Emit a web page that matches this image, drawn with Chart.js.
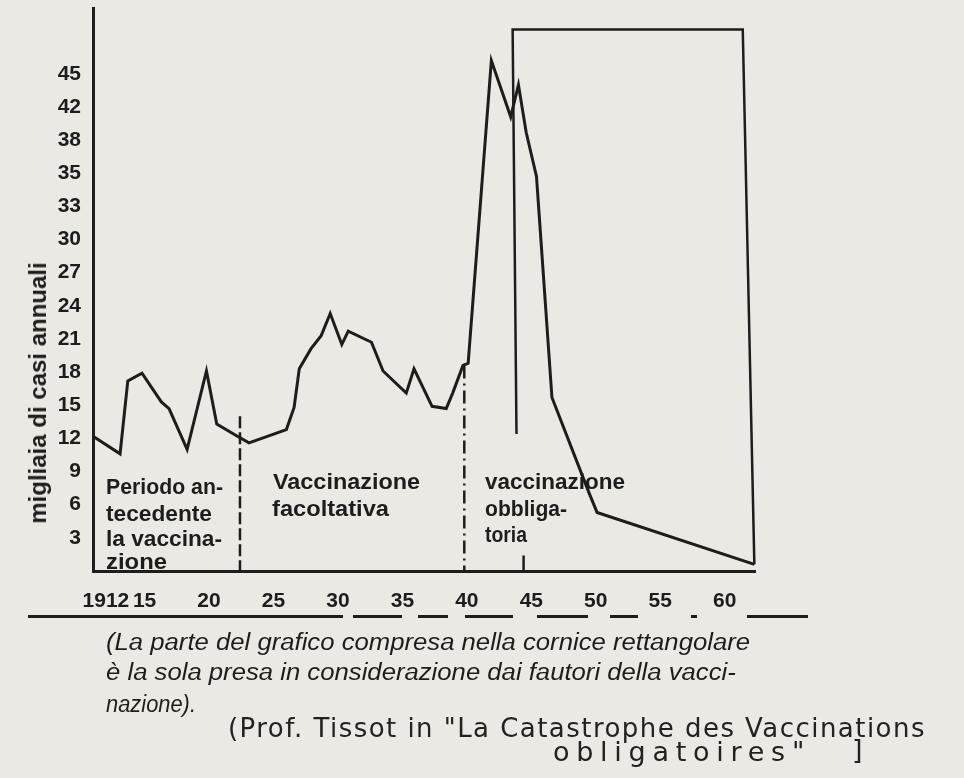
<!DOCTYPE html>
<html lang="it">
<head>
<meta charset="utf-8">
<title>Vaiolo - migliaia di casi annuali</title>
<script src="https://cdn.jsdelivr.net/npm/chart.js@4.4.1/dist/chart.umd.min.js"></script>
<style>
    html, body { margin: 0; padding: 0; background: #ebe9e3; }
    #page { position: relative; width: 964px; height: 778px; overflow: hidden; background: #ebe9e3; color: #1d1d1d; }
    #chart { position: absolute; left: 0; top: 0; }
    .note { position: absolute; white-space: nowrap; font-family: "Liberation Sans", Arial, sans-serif; font-weight: bold; font-size: 22px; line-height: 22px; transform-origin: 0 0; }
    .axis-title { position: absolute; left: 38px; top: 393px; white-space: nowrap; font-family: "Liberation Sans", Arial, sans-serif; font-weight: bold; font-size: 24px; line-height: 24px; transform: translate(-50%, -50%) rotate(-90deg); }
    .caption { position: absolute; left: 106px; white-space: nowrap; font-family: "Liberation Sans", Arial, sans-serif; font-style: italic; font-size: 23px; line-height: 23px; transform-origin: 0 0; }
    .hand { position: absolute; white-space: nowrap; font-family: "DejaVu Sans", sans-serif; line-height: 28px; color: #222; }
    .rule { position: absolute; top: 615px; height: 3px; background: #1d1d1d; }
</style>
</head>
<body>
<div id="page">
    <canvas id="chart" width="964" height="778"></canvas>

    <div class="axis-title">migliaia di casi annuali</div>

    <div class="note" style="left:106px; top:476px" data-w="117">Periodo an-</div>
    <div class="note" style="left:106px; top:503px" data-w="106">tecedente</div>
    <div class="note" style="left:106px; top:528px" data-w="116">la vaccina-</div>
    <div class="note" style="left:106px; top:551px" data-w="61">zione</div>

    <div class="note" style="left:273px; top:471px" data-w="147">Vaccinazione</div>
    <div class="note" style="left:272px; top:498px" data-w="117">facoltativa</div>

    <div class="note" style="left:485px; top:471px" data-w="140">vaccinazione</div>
    <div class="note" style="left:485px; top:498px" data-w="82">obbliga-</div>
    <div class="note" style="left:485px; top:524px" data-w="42">toria</div>

    <div id="rules"></div>

    <div class="caption" style="top:631px" data-w="644">(La parte del grafico compresa nella cornice rettangolare</div>
    <div class="caption" style="top:661px" data-w="630">è la sola presa in considerazione dai fautori della vacci-</div>
    <div class="caption" style="top:693px" data-w="90">nazione).</div>

    <div class="hand" style="left:228px; top:714px; font-size:26px" data-span="698">(Prof. Tissot in "La Catastrophe des Vaccinations</div>
    <div class="hand" style="left:553px; top:738px; font-size:27px" data-span="258">obligatoires"</div>
    <div class="hand" style="left:852px; top:736px; font-size:27px">]</div>
</div>

<script>
// values (thousands of cases per year)
const years = [1911.0, 1913.1, 1913.7, 1914.8, 1916.3, 1916.9, 1918.3, 1919.8, 1920.6, 1922.2,
               1923.1, 1926.0, 1926.6, 1927.0, 1927.9, 1928.7, 1929.4, 1930.3, 1930.8, 1932.6,
               1933.5, 1935.3, 1935.9, 1937.3, 1938.4, 1938.9, 1939.7, 1940.1, 1941.9, 1943.4,
               1944.0, 1944.6, 1945.4, 1946.6, 1949.5, 1950.1, 1962.3];
const cases = [12.2, 10.6, 17.2, 17.9, 15.3, 14.7, 11.0, 18.1, 13.3, 12.2,
               11.6, 12.8, 14.8, 18.3, 20.1, 21.3, 23.3, 20.5, 21.7, 20.7,
               18.1, 16.1, 18.3, 14.9, 14.7, 16.1, 18.6, 18.8, 46.2, 41.1,
               44.0, 39.7, 35.7, 15.7, 7.0, 5.3, 0.6];

// ticks are evenly spaced, the printed labels are not evenly stepped
const y_tick_values = [3, 6, 9, 12, 15, 18, 21, 24, 27, 30, 33, 36, 39, 42, 45];
const y_tick_labels = ["3", "6", "9", "12", "15", "18", "21", "24", "27", "30", "33", "35", "38", "42", "45"];

const x_tick_values = [1912, 1915, 1920, 1925, 1930, 1935, 1940, 1945, 1950, 1955, 1960];
const x_tick_labels = ["1912", "15", "20", "25", "30", "35", "40", "45", "50", "55", "60"];

// period dividers and the rectangular frame
const divider_a_years = [1922.4, 1922.4];
const divider_a_values = [14.0, 0];
const divider_b_years = [1939.8, 1939.8];
const divider_b_values = [18.6, 0];
const frame_years = [1943.85, 1943.55, 1961.4, 1962.3];
const frame_values = [12.4, 49.0, 49.0, 0.6];
const frame_tick_years = [1944.4, 1944.4];
const frame_tick_values = [1.4, 0];

// broken printed rule under the year labels (page decoration, px)
const rule_segments = [[28, 343], [353, 402], [418, 448], [465, 513], [537, 588], [610, 638], [691, 697], [747, 808]];

const ink = "#1d1d1d";
const tick_font = { family: "'Liberation Sans', Arial, sans-serif", size: 21, weight: "bold" };

function toPoints(xs, ys) {
    let pts = [];
    for (let i = 0; i < xs.length; i ++) {
        pts.push({ x: xs[i], y: ys[i] });
    }
    return pts;
}

function fitWidths() {
    // printed text: squeeze to the measured width
    const items = document.querySelectorAll("[data-w]");
    for (let i = 0; i < items.length; i ++) {
        const el = items[i];
        const natural = el.getBoundingClientRect().width;
        const target = parseFloat(el.dataset.w);
        el.style.transform = "scaleX(" + (target / natural).toFixed(3) + ")";
    }
    // handwriting: spread the letters instead
    const hand = document.querySelectorAll("[data-span]");
    for (let i = 0; i < hand.length; i ++) {
        const el = hand[i];
        const natural = el.getBoundingClientRect().width;
        const target = parseFloat(el.dataset.span);
        const n = el.textContent.length;
        el.style.letterSpacing = ((target - natural) / n).toFixed(2) + "px";
    }
}

window.addEventListener("DOMContentLoaded", () => {

    // decoration rule
    const rules = document.getElementById("rules");
    for (let i = 0; i < rule_segments.length; i ++) {
        const seg = document.createElement("div");
        seg.className = "rule";
        seg.style.left = rule_segments[i][0] + "px";
        seg.style.width = (rule_segments[i][1] - rule_segments[i][0]) + "px";
        rules.appendChild(seg);
    }

    const line_style = {
        fill: false,
        borderColor: ink,
        pointRadius: 0,
        pointHoverRadius: 0,
        tension: 0,
        clip: false
    };

    const datasets = [
        Object.assign({ label: "casi", data: toPoints(years, cases), borderWidth: 3 }, line_style),
        Object.assign({ label: "div-a", data: toPoints(divider_a_years, divider_a_values), borderWidth: 2.5, borderDash: [12, 4] }, line_style),
        Object.assign({ label: "div-b", data: toPoints(divider_b_years, divider_b_values), borderWidth: 2.5, borderDash: [13, 5, 2, 5] }, line_style),
        Object.assign({ label: "cornice", data: toPoints(frame_years, frame_values), borderWidth: 2.5 }, line_style),
        Object.assign({ label: "tacca", data: toPoints(frame_tick_years, frame_tick_values), borderWidth: 2.5 }, line_style)
    ];

    const config = {
        type: "line",
        data: { datasets: datasets },
        options: {
            responsive: false,
            animation: false,
            layout: {
                padding: { top: 8, right: 209, bottom: 0, left: 0 }
            },
            plugins: {
                legend: { display: false },
                tooltip: { enabled: false }
            },
            scales: {
                x: {
                    type: "linear",
                    min: 1911,
                    max: 1962.35,
                    afterFit: (scale) => {
                        scale.height = 778 - 571;
                        scale.paddingLeft = 0;
                        scale.paddingRight = 0;
                    },
                    afterBuildTicks: (scale) => { scale.ticks = x_tick_values.map(v => ({ value: v })); },
                    ticks: {
                        callback: (value, index) => x_tick_labels[index],
                        autoSkip: false,
                        maxRotation: 0,
                        padding: 18,
                        color: ink,
                        font: tick_font
                    },
                    grid: { display: false, drawTicks: false, tickLength: 0 },
                    border: { display: true, color: ink, width: 3 }
                },
                y: {
                    type: "linear",
                    min: 0,
                    max: 50.95,
                    afterFit: (scale) => {
                        scale.width = 93;
                        scale.paddingTop = 0;
                        scale.paddingBottom = 0;
                    },
                    afterBuildTicks: (scale) => { scale.ticks = y_tick_values.map(v => ({ value: v })); },
                    ticks: {
                        callback: (value, index) => y_tick_labels[index],
                        autoSkip: false,
                        padding: 12,
                        color: ink,
                        font: tick_font
                    },
                    grid: { display: false, drawTicks: false, tickLength: 0 },
                    border: { display: true, color: ink, width: 3 }
                }
            }
        }
    };

    const ctx = document.getElementById("chart").getContext("2d");
    new Chart(ctx, config);

    if (document.fonts && document.fonts.ready) {
        document.fonts.ready.then(fitWidths);
    } else {
        fitWidths();
    }
});
</script>
</body>
</html>
